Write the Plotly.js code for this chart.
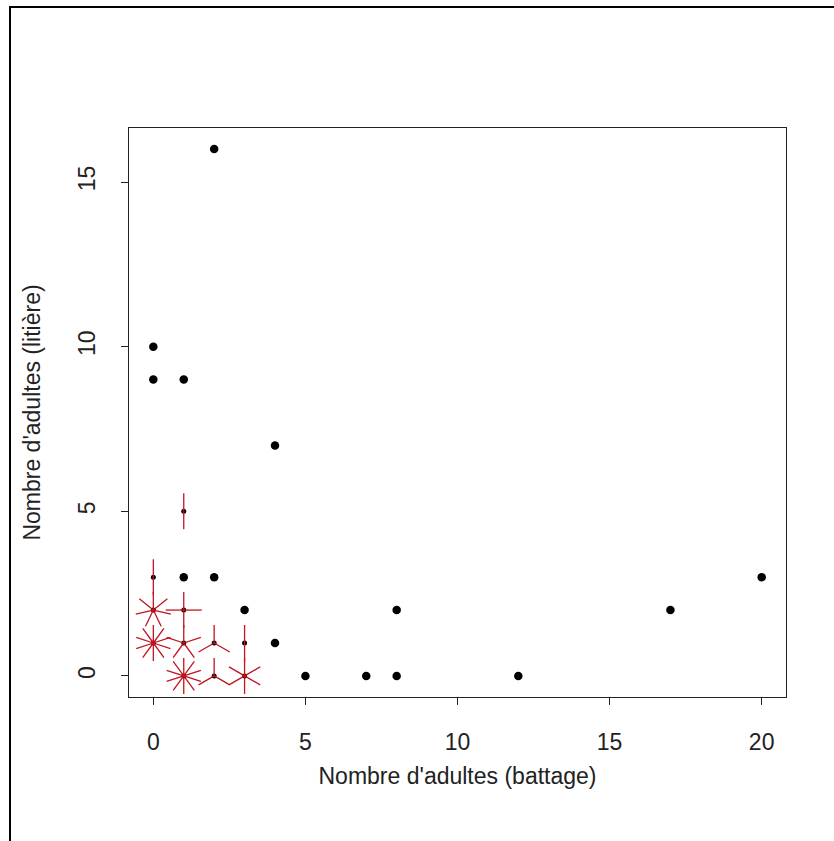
<!DOCTYPE html>
<html>
<head>
<meta charset="utf-8">
<script src="https://cdn.plot.ly/plotly-3.0.1.min.js"></script>
<style>
  html, body { margin: 0; padding: 0; background: #fff; }
  #chart { width: 834px; height: 841px; }
</style>
</head>
<body>
<div id="chart"></div>
<script>
// Unique (battage, litière) locations and how many observations fall on each
const xBattage = [2, 0, 0, 1, 4, 1, 2, 3, 4, 5, 7, 8, 8, 12, 17, 20,
                  1, 0, 0, 1, 0, 1, 2, 3, 1, 2, 3];
const yLitiere = [16, 10, 9, 9, 7, 3, 3, 2, 1, 0, 0, 0, 2, 0, 2, 3,
                  5, 3, 2, 2, 1, 1, 1, 1, 0, 0, 0];
const counts   = [1, 1, 1, 1, 1, 1, 1, 1, 1, 1, 1, 1, 1, 1, 1, 1,
                  2, 2, 7, 4, 10, 5, 3, 2, 10, 3, 6];

const xTickVals = [0, 5, 10, 15, 20];
const yTickVals = [0, 5, 10, 15];
const xTitle = "Nombre d'adultes (battage)";
const yTitle = "Nombre d'adultes (litière)";

// Layout geometry
const W = 834, H = 841;
const mL = 129, mR = 48, mT = 128, mB = 144;
const plotW = W - mL - mR, plotH = H - mT - mB;
const xMin = Math.min(...xBattage), xMax = Math.max(...xBattage);
const yMin = Math.min(...yLitiere), yMax = Math.max(...yLitiere);
const xRange = [xMin - 0.04 * (xMax - xMin), xMax + 0.04 * (xMax - xMin)];
const yRange = [yMin - 0.04 * (yMax - yMin), yMax + 0.04 * (yMax - yMin)];
const pxPerX = plotW / (xRange[1] - xRange[0]);
const pxPerY = plotH / (yRange[1] - yRange[0]);
const petalPx = 18;

// Split single and multiple points
const sx = [], sy = [], mx = [], my = [];
const px = [], py = [];
for (let i = 0; i < counts.length; i++) {
  const n = counts[i];
  if (n === 1) { sx.push(xBattage[i]); sy.push(yLitiere[i]); continue; }
  mx.push(xBattage[i]); my.push(yLitiere[i]);
  for (let k = 1; k <= n; k++) {
    const deg = 2 * Math.PI * k / n;
    px.push(xBattage[i], xBattage[i] + petalPx / pxPerX * Math.sin(deg), null);
    py.push(yLitiere[i], yLitiere[i] + petalPx / pxPerY * Math.cos(deg), null);
  }
}

const traces = [
  { x: sx, y: sy, type: 'scatter', mode: 'markers',
    marker: { color: '#000', size: 8.5, symbol: 'circle' }, hoverinfo: 'x+y' },
  { x: mx, y: my, type: 'scatter', mode: 'markers',
    marker: { color: '#000', size: 5, symbol: 'circle' }, hoverinfo: 'x+y' },
  { x: px, y: py, type: 'scatter', mode: 'lines',
    line: { color: '#c0141f', width: 1.3 }, hoverinfo: 'skip', connectgaps: false }
];

const font = { family: 'Liberation Sans, Arial, sans-serif', size: 23, color: '#222' };

const layout = {
  width: W, height: H,
  margin: { l: mL, r: mR, t: mT, b: mB, pad: 0 },
  paper_bgcolor: '#fff', plot_bgcolor: '#fff',
  showlegend: false,
  font: font,
  xaxis: {
    range: xRange, tickvals: xTickVals, ticktext: xTickVals.map(String),
    showgrid: false, zeroline: false,
    showline: true, mirror: true, linecolor: '#222', linewidth: 1,
    ticks: 'outside', ticklen: 7, tickcolor: '#222', tickwidth: 1,
    ticklabelstandoff: 17,
    tickfont: font,
    title: { text: xTitle, font: font, standoff: 14 }
  },
  yaxis: {
    range: yRange, tickvals: yTickVals, ticktext: yTickVals.map(String),
    showgrid: false, zeroline: false,
    showline: true, mirror: true, linecolor: '#222', linewidth: 1,
    ticks: 'outside', ticklen: 7, tickcolor: '#222', tickwidth: 1,
    tickangle: -90, ticklabelstandoff: 17,
    tickfont: font,
    title: { text: yTitle, font: font, standoff: 26 }
  },
  shapes: [{
    type: 'rect', xref: 'paper', yref: 'paper',
    x0: (10 - mL) / plotW, x1: (W + 20 - mL) / plotW,
    y0: (H - mB - (H + 20)) / plotH, y1: (H - mB - 7) / plotH,
    line: { color: '#000', width: 2 }, fillcolor: 'rgba(0,0,0,0)', layer: 'below'
  }]
};

Plotly.newPlot('chart', traces, layout, { displayModeBar: false, staticPlot: true });
</script>
</body>
</html>
